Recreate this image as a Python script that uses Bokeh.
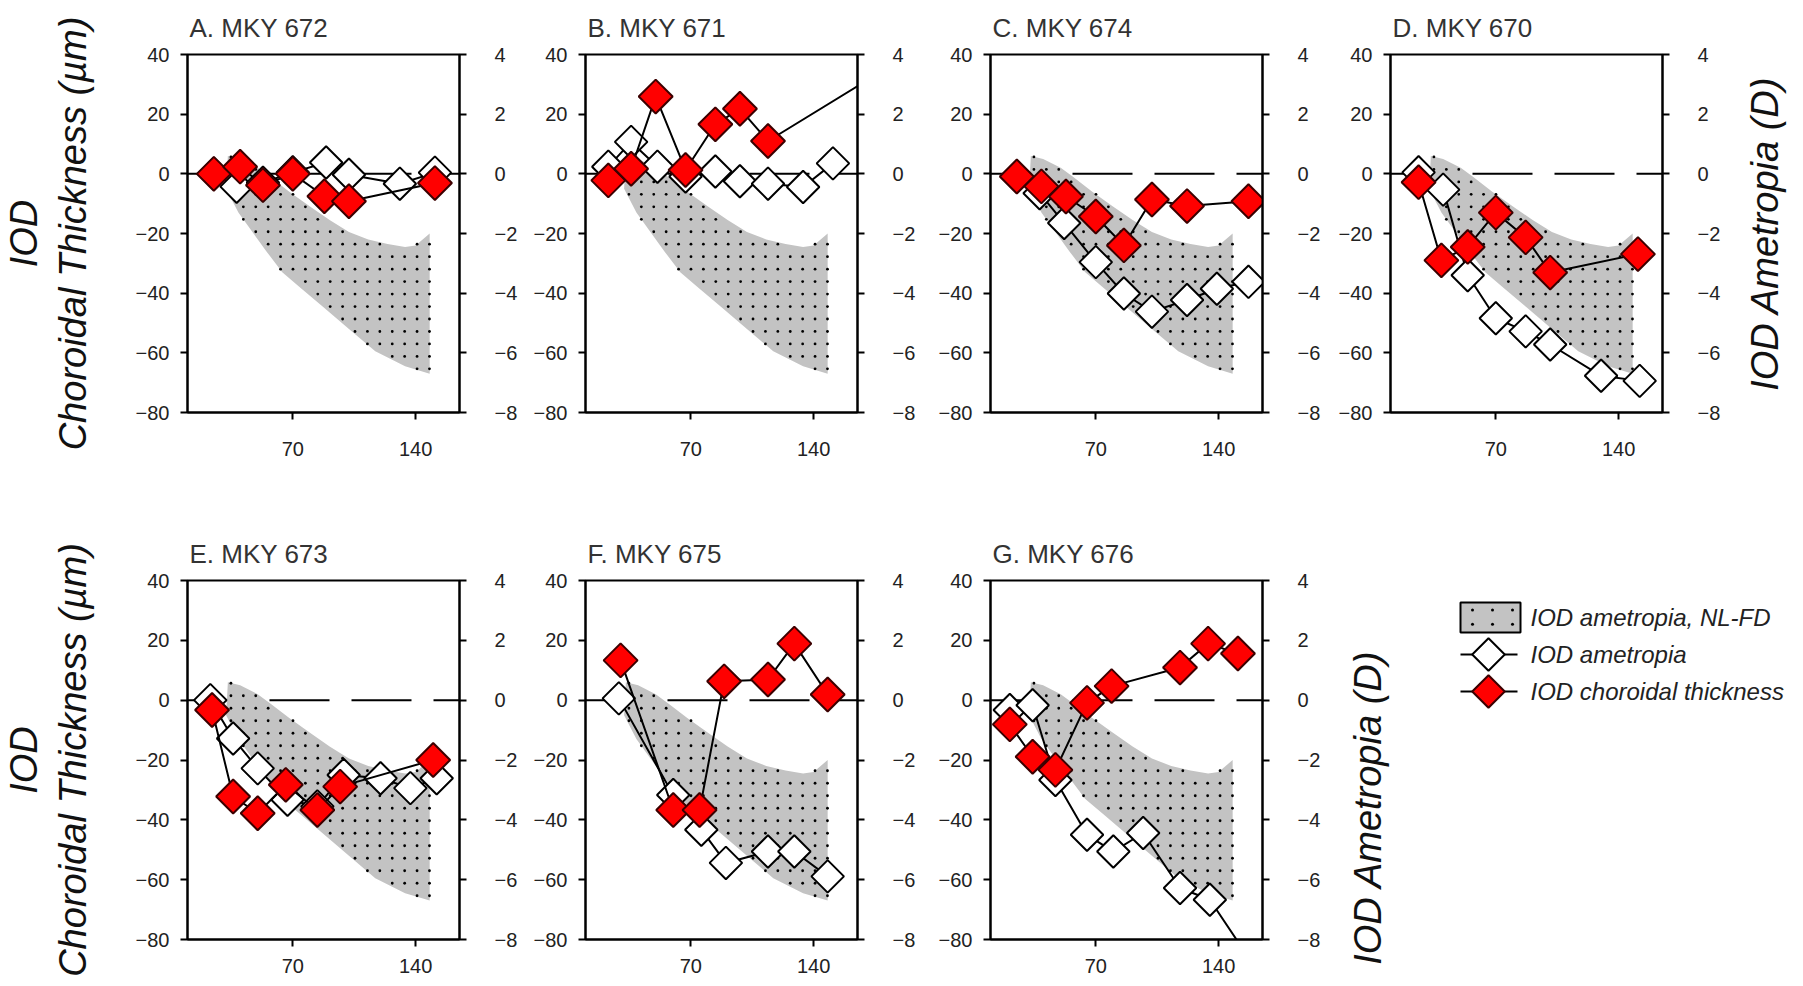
import math
import numpy as np
from bokeh.plotting import figure
from bokeh.models import Range1d, LinearAxis, FixedTicker, Span
from bokeh.layouts import row, column
from bokeh.embed import file_html
from bokeh.resources import INLINE
from bokeh.core.properties import value

# ---------------- data ----------------
x_ticks = [70, 140]
ct_ticks = [-80, -60, -40, -20, 0, 20, 40]
am_ticks = [-8, -6, -4, -2, 0, 2, 4]

# NL-FD range of IOD ametropia (D): upper edge then lower edge
band_up_x = [33, 40, 50, 57, 68, 80, 91, 102, 113, 124, 134, 140, 148]
band_up_d = [0.6, 0.5, 0.2, -0.1, -0.6, -1.1, -1.55, -1.95, -2.2, -2.35, -2.45, -2.4, -2.0]
band_lo_x = [148, 134, 117, 102, 87, 75, 64, 55, 47, 39, 32]
band_lo_d = [-6.7, -6.45, -5.95, -5.2, -4.45, -3.85, -3.3, -2.6, -1.95, -1.3, -0.5]

titles = ["A. MKY 672", "B. MKY 671", "C. MKY 674", "D. MKY 670",
          "E. MKY 673", "F. MKY 675", "G. MKY 676"]

# IOD choroidal thickness (um)
a_ct_x = [25, 40, 53, 70, 88, 102, 151]
a_ct = [0.0, 2.4, -3.8, 0.0, -7.5, -9.2, -3.1]
b_ct_x = [23, 36, 50, 67, 84, 98, 114, 175]
b_ct = [-2.2, 1.7, 25.9, 1.3, 16.6, 21.8, 11.0, 33.0]
c_ct_x = [25, 39, 53, 70, 86, 102, 122, 157]
c_ct = [-0.9, -4.2, -7.6, -14.3, -24.0, -8.6, -10.8, -9.2]
d_ct_x = [26, 39, 54, 70, 87, 101, 151]
d_ct = [-2.8, -29.0, -24.5, -13.0, -21.3, -33.1, -26.9]
e_ct_x = [24, 36, 50, 66, 84, 97, 150]
e_ct = [-3.3, -32.2, -37.8, -28.3, -36.7, -28.9, -20.0]
f_ct_x = [30, 60, 75, 89, 114, 129, 148]
f_ct = [13.3, -36.7, -36.7, 6.3, 6.9, 18.9, 1.9]
g_ct_x = [21, 34, 47, 65, 79, 118, 134, 151]
g_ct = [-8.1, -18.9, -23.3, -0.9, 4.7, 10.9, 18.9, 15.6]

# IOD ametropia (D)
a_am_x = [25, 38, 53, 70, 89, 102, 131, 151]
a_am = [0.0, -0.43, -0.3, 0.05, 0.38, -0.03, -0.33, 0.04]
b_am_x = [23, 36, 51, 67, 84, 98, 114, 134, 151]
b_am = [0.24, 1.07, 0.24, -0.09, 0.08, -0.25, -0.33, -0.44, 0.35]
c_am_x = [25, 38, 52, 70, 86, 102, 122, 139, 157]
c_am = [-0.1, -0.65, -1.65, -2.96, -4.01, -4.62, -4.23, -3.85, -3.62]
d_am_x = [26, 40, 54, 70, 87, 101, 130, 152]
d_am = [0.05, -0.53, -3.4, -4.84, -5.28, -5.72, -6.77, -6.94]
e_am_x = [23, 36, 50, 67, 84, 99, 120, 137, 152]
e_am = [0.0, -1.28, -2.28, -3.33, -3.55, -2.5, -2.61, -2.94, -2.61]
f_am_x = [29, 60, 76, 90, 114, 129, 148]
f_am = [0.06, -3.17, -4.33, -5.44, -5.06, -5.06, -5.89]
g_am_x = [21, 34, 47, 65, 80, 97, 118, 135, 157]
g_am = [-0.33, -0.17, -2.67, -4.5, -5.06, -4.44, -6.28, -6.67, -8.6]

legend_labels = ["IOD ametropia, NL-FD", "IOD ametropia", "IOD choroidal thickness"]
left_title = "IOD\nChoroidal Thickness (µm)"
right_title = "IOD Ametropia (D)"

FONT = "Liberation Sans"
GRAY = "#C3C3C3"
RED = "#FF0000"
X_RANGE = (10, 165)
CT_RANGE = (-80, 40)
AM_RANGE = (-8, 4)
FRAME_W, FRAME_H = 274, 359
DOT_STEP_PX = 12.5


def inside_polygon(px, py, vx, vy):
    vx = np.asarray(vx, float)
    vy = np.asarray(vy, float)
    res = np.zeros(px.shape, bool)
    j = len(vx) - 1
    for i in range(len(vx)):
        dy = vy[j] - vy[i]
        if dy == 0:
            dy = 1e-12
        cond = ((vy[i] > py) != (vy[j] > py)) & (px < (vx[j] - vx[i]) * (py - vy[i]) / dy + vx[i])
        res ^= cond
        j = i
    return res


def dot_texture(vx, vy, x0, x1, y0, y1, sx, sy):
    """Regular dot texture (screen-spaced) clipped to a polygon."""
    gx = np.arange(x0 + sx / 2, x1, sx)
    gy = np.arange(y0 + sy / 2, y1, sy)
    X, Y = np.meshgrid(gx, gy)
    X = X.ravel()
    Y = Y.ravel()
    m = inside_polygon(X, Y, vx, vy)
    return X[m], Y[m]


band_x = band_up_x + band_lo_x
band_d = band_up_d + band_lo_d
dot_x, dot_d = dot_texture(band_x, band_d, X_RANGE[0], X_RANGE[1], AM_RANGE[0], AM_RANGE[1],
                           DOT_STEP_PX * (X_RANGE[1] - X_RANGE[0]) / FRAME_W,
                           DOT_STEP_PX * (AM_RANGE[1] - AM_RANGE[0]) / FRAME_H)


def style_axis(ax, ticks, standoff):
    ax.ticker = FixedTicker(ticks=ticks)
    ax.minor_tick_line_color = None
    ax.major_tick_in = 0
    ax.major_tick_out = 7
    ax.major_tick_line_width = 2
    ax.major_tick_line_color = "black"
    ax.axis_line_width = 2
    ax.axis_line_color = "black"
    ax.major_label_text_font = FONT
    ax.major_label_text_font_size = "20px"
    ax.major_label_text_color = "#222222"
    ax.major_label_standoff = standoff


def style_axis_label(ax, text, standoff, line_height):
    ax.axis_label = text
    ax.axis_label_text_font = FONT
    ax.axis_label_text_font_style = "italic"
    ax.axis_label_text_font_size = "38px"
    ax.axis_label_text_color = "#111111"
    ax.axis_label_text_line_height = line_height
    ax.axis_label_standoff = standoff


def make_panel(title, ct_x, ct_y, am_x, am_y, W, H, L, R, T, B, xstand, left_label=False):
    p = figure(width=W, height=H, x_range=Range1d(*X_RANGE), y_range=Range1d(*CT_RANGE),
               output_backend="svg", toolbar_location=None, title=title,
               min_border_left=L, min_border_right=R, min_border_top=T, min_border_bottom=B)
    p.extra_y_ranges = {"am": Range1d(*AM_RANGE)}
    p.grid.visible = False
    p.outline_line_color = "black"
    p.outline_line_width = 2
    p.border_fill_color = "white"
    p.background_fill_color = "white"
    p.title.align = "left"
    p.title.vertical_align = "middle"
    p.title.offset = 2
    p.title.standoff = 22
    p.title.text_font = FONT
    p.title.text_font_style = "normal"
    p.title.text_font_size = "26px"
    p.title.text_color = "#333333"

    left_ax = p.yaxis[0]
    right_ax = LinearAxis(y_range_name="am")
    p.add_layout(right_ax, "right")
    style_axis(p.xaxis[0], x_ticks, xstand)
    style_axis(left_ax, ct_ticks, 11)
    style_axis(right_ax, am_ticks, 28)
    if left_label:
        style_axis_label(left_ax, left_title, 39, 1.15)

    p.add_layout(Span(location=0, dimension="width", line_color="black", line_width=2,
                      line_dash="60 22", level="underlay"))
    p.patch(band_x, band_d, y_range_name="am", fill_color=GRAY, line_color=None)
    p.scatter(dot_x, dot_d, y_range_name="am", marker="circle", size=2.8,
              fill_color="black", line_color=None)
    p.line(am_x, am_y, y_range_name="am", line_color="black", line_width=2)
    p.scatter(am_x, am_y, y_range_name="am", marker="square", angle=math.pi / 4, size=23,
              fill_color="white", line_color="black", line_width=2)
    p.line(ct_x, ct_y, line_color="black", line_width=2)
    p.scatter(ct_x, ct_y, marker="square", angle=math.pi / 4, size=24,
              fill_color=RED, line_color="#3c0000", line_width=2)
    return p


def side_title_fig(text, W, H, L, T, B):
    """Narrow figure whose (tick-less) left axis carries a rotated axis title."""
    p = figure(width=W, height=H, x_range=Range1d(0, 1), y_range=Range1d(0, 1),
               output_backend="svg", toolbar_location=None, x_axis_type=None,
               min_border_left=L, min_border_right=0, min_border_top=T, min_border_bottom=B)
    p.outline_line_color = None
    p.grid.visible = False
    ax = p.yaxis[0]
    ax.ticker = FixedTicker(ticks=[])
    ax.axis_line_color = None
    ax.major_tick_line_color = None
    ax.minor_tick_line_color = None
    ax.major_tick_out = 0
    ax.major_tick_in = 0
    ax.major_label_standoff = 0
    style_axis_label(ax, text, 0, 1.2)
    return p


def legend_fig(W, H, T, B):
    fh = H - T - B
    p = figure(width=W, height=H, x_range=Range1d(0, W), y_range=Range1d(0, fh),
               output_backend="svg", toolbar_location=None, x_axis_type=None,
               y_axis_type=None, min_border_left=0, min_border_right=0,
               min_border_top=T, min_border_bottom=B)
    p.outline_line_color = None
    ys = [fh - 37 - 37 * i for i in range(3)]
    sw_x, sw_w, sw_h = 95, 60, 30
    p.rect(x=[sw_x], y=ys[:1], width=sw_w, height=sw_h, fill_color=GRAY, line_color="black",
           line_width=2)
    rx = [sw_x - sw_w / 2, sw_x + sw_w / 2, sw_x + sw_w / 2, sw_x - sw_w / 2]
    ry = [ys[0] - sw_h / 2, ys[0] - sw_h / 2, ys[0] + sw_h / 2, ys[0] + sw_h / 2]
    lx, ly = dot_texture(rx, ry, rx[0] + 2, rx[1] - 2, ry[0] + 1, ry[2] - 1,
                         DOT_STEP_PX * 1.6, DOT_STEP_PX * 1.15)
    p.scatter(lx, ly, marker="circle", size=3, fill_color="black", line_color=None)
    for yy, fc, lc in [(ys[1], "white", "black"), (ys[2], RED, "#3c0000")]:
        p.line([65, 122], [yy, yy], line_color="black", line_width=2)
        p.scatter([93], [yy], marker="square", angle=math.pi / 4, size=23,
                  fill_color=fc, line_color=lc, line_width=2)
    p.text(x=[135] * 3, y=ys, text=legend_labels, text_align="left", text_baseline="middle",
           text_font=value(FONT), text_font_style="italic", text_font_size="24px",
           text_color="#222222")
    return p


H1, H2 = 480, 504
T1, B1, T2, B2 = 53, 68, 100, 45
pa = make_panel(titles[0], a_ct_x, a_ct, a_am_x, a_am, 530, H1, 185, 71, T1, B1, 22,
                left_label=True)
pb = make_panel(titles[1], b_ct_x, b_ct, b_am_x, b_am, 405, H1, 53, 78, T1, B1, 22)
pc = make_panel(titles[2], c_ct_x, c_ct, c_am_x, c_am, 400, H1, 53, 73, T1, B1, 22)
pd = make_panel(titles[3], d_ct_x, d_ct, d_am_x, d_am, 400, H1, 53, 73, T1, B1, 22)
rd = side_title_fig(right_title, 60, H1, 50, T1, B1)
pe = make_panel(titles[4], e_ct_x, e_ct, e_am_x, e_am, 530, H2, 185, 71, T2, B2, 12,
                left_label=True)
pf = make_panel(titles[5], f_ct_x, f_ct, f_am_x, f_am, 405, H2, 53, 78, T2, B2, 12)
pg = make_panel(titles[6], g_ct_x, g_ct, g_am_x, g_am, 400, H2, 53, 73, T2, B2, 12)
rg = side_title_fig(right_title + "\u00a0" * 9, 60, H2, 53, T2, B2)
lg = legend_fig(400, H2, T2, B2)

layout = column(row(pa, pb, pc, pd, rd), row(pe, pf, pg, rg, lg))
open("out.html", "w").write(file_html(layout, INLINE))
